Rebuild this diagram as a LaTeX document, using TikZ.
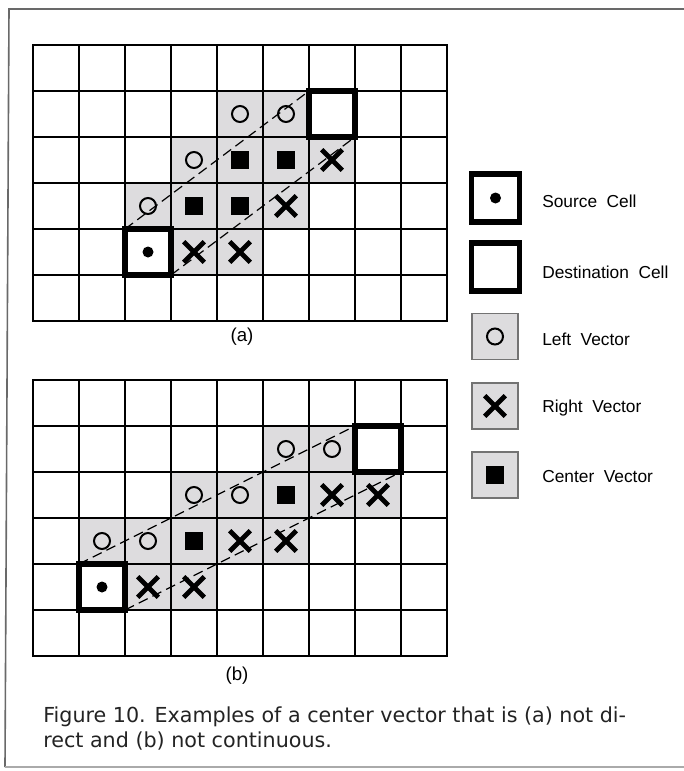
\documentclass[tikz,border=0pt]{standalone}
\usepackage{fontspec}
\setmainfont{Liberation Sans}
\newfontfamily\capfont{DejaVu Sans}
\usetikzlibrary{shapes.misc}
\definecolor{cellgray}{RGB}{221,220,222}
\definecolor{framegray}{RGB}{105,105,105}
\definecolor{framelight}{RGB}{170,170,170}
\definecolor{captioncol}{RGB}{35,35,35}
\newcommand{\wsp}{\hspace{0.55em}}
\tikzset{
  gridline/.style={line width=1pt},
  gridborder/.style={line width=1.9pt},
  endcell/.style={rectangle, draw, line width=3.8pt, minimum size=34.5pt, inner sep=0pt, outer sep=0pt},
  legendend/.style={rectangle, draw, line width=3.8pt, minimum size=36pt, inner sep=0pt, outer sep=0pt},
  legendcell/.style={rectangle, draw=black!55, fill=cellgray, line width=0.8pt, minimum size=34.5pt, inner sep=0pt},
  leftmark/.style={circle, draw, line width=1.5pt, minimum size=12pt, inner sep=0pt},
  rightmark/.style={cross out, draw, line width=3.5pt, minimum size=12pt, inner sep=0pt},
  centermark/.style={rectangle, fill=black, minimum size=13.5pt, inner sep=0pt},
  srcdot/.style={circle, fill=black, minimum size=8.25pt, inner sep=0pt},
  vecline/.style={dash pattern=on 7.5pt off 4pt, line width=0.9pt},
  legtext/.style={anchor=base west, inner sep=0pt, font=\fontsize{13}{15}\selectfont},
  sublabel/.style={inner sep=0pt, font=\fontsize{14}{16}\selectfont},
  captext/.style={anchor=base west, inner sep=0pt, text=captioncol, font=\capfont\fontsize{15.5}{18}\selectfont},
}
\begin{document}
\begin{tikzpicture}[x=0.75pt, y=-0.75pt]
\useasboundingbox (0,0) rectangle (684,771);
% outer frame
\draw[framegray, line width=1.2pt] (684,9) -- (9,9) -- (5,767);
\draw[framelight, line width=1pt] (5,767) -- (684,767);

% ---------------- grid (a)
\begin{scope}[shift={(33,45)}, x=34.5pt, y=-34.5pt]
  \foreach \c/\r in {4/1,5/1,3/2,4/2,5/2,6/2,2/3,3/3,4/3,5/3,3/4,4/4}
    \fill[cellgray] (\c,\r) rectangle ++(1,1);
  \foreach \c in {1,...,8} \draw[gridline] (\c,0) -- (\c,6);
  \foreach \r in {1,...,5} \draw[gridline] (0,\r) -- (9,\r);
  \draw[gridborder] (0,0) rectangle (9,6);
  \foreach \c/\r in {4/1,5/1,3/2,2/3}
    \node[leftmark] (a-l-\c-\r) at (\c+0.5,\r+0.5) {};
  \foreach \c/\r in {4/2,5/2,3/3,4/3}
    \node[centermark] (a-c-\c-\r) at (\c+0.5,\r+0.5) {};
  \foreach \c/\r in {6/2,5/3,3/4,4/4}
    \node[rightmark] (a-r-\c-\r) at (\c+0.5,\r+0.5) {};
  \node[endcell] (a-src) at (2.5,4.5) {};
  \node[srcdot] (a-dot) at (a-src) {};
  \node[endcell] (a-dst) at (6.5,1.5) {};
  \draw[vecline] (a-src.north west) -- (a-dst.north west);
  \draw[vecline] (a-src.south east) -- (a-dst.south east);
\end{scope}
\node[sublabel] (lab-a) at (242,337) {(a)};

% ---------------- grid (b)
\begin{scope}[shift={(33,380)}, x=34.5pt, y=-34.5pt]
  \foreach \c/\r in {5/1,6/1,3/2,4/2,5/2,6/2,7/2,1/3,2/3,3/3,4/3,5/3,2/4,3/4}
    \fill[cellgray] (\c,\r) rectangle ++(1,1);
  \foreach \c in {1,...,8} \draw[gridline] (\c,0) -- (\c,6);
  \foreach \r in {1,...,5} \draw[gridline] (0,\r) -- (9,\r);
  \draw[gridborder] (0,0) rectangle (9,6);
  \foreach \c/\r in {5/1,6/1,3/2,4/2,1/3,2/3}
    \node[leftmark] (b-l-\c-\r) at (\c+0.5,\r+0.5) {};
  \foreach \c/\r in {5/2,3/3}
    \node[centermark] (b-c-\c-\r) at (\c+0.5,\r+0.5) {};
  \foreach \c/\r in {6/2,7/2,4/3,5/3,2/4,3/4}
    \node[rightmark] (b-r-\c-\r) at (\c+0.5,\r+0.5) {};
  \node[endcell] (b-src) at (1.5,4.5) {};
  \node[srcdot] (b-dot) at (b-src) {};
  \node[endcell] (b-dst) at (7.5,1.5) {};
  \draw[vecline] (b-src.north west) -- (b-dst.north west);
  \draw[vecline] (b-src.south east) -- (b-dst.south east);
\end{scope}
\node[sublabel] (lab-b) at (237,676) {(b)};

% ---------------- legend
\node[legendend] (lg-src) at (495.5,198) {};
\node[srcdot] (lg-dot) at (lg-src) {};
\node[legendend] (lg-dst) at (495.5,267) {};
\node[legendcell] (lg-left) at (495,336.5) {};
\node[leftmark] (lg-leftm) at (lg-left) {};
\node[legendcell] (lg-right) at (495,406) {};
\node[rightmark] (lg-rightm) at (lg-right) {};
\node[legendcell] (lg-center) at (495,475) {};
\node[centermark] (lg-centerm) at (lg-center) {};
\node[legtext] (t-src) at (542,207) {Source\wsp Cell};
\node[legtext] (t-dst) at (542,278) {Destination\wsp Cell};
\node[legtext] (t-left) at (542,345) {Left\wsp Vector};
\node[legtext] (t-right) at (542,412) {Right\wsp Vector};
\node[legtext] (t-center) at (542,482) {Center\wsp Vector};

% ---------------- caption
\node[captext] (cap1) at (43,722) {Figure 10. Examples of a center vector that is (a) not di-};
\node[captext] (cap2) at (43,747) {rect and (b) not continuous.};
\end{tikzpicture}
\end{document}
